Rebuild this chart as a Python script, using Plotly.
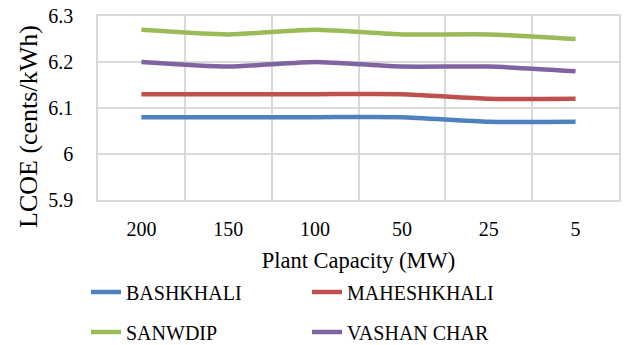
import plotly.graph_objects as go

categories = ["200", "150", "100", "50", "25", "5"]
bashkhali = [6.08, 6.08, 6.08, 6.08, 6.07, 6.07]
maheshkhali = [6.13, 6.13, 6.13, 6.13, 6.12, 6.12]
sanwdip = [6.27, 6.26, 6.27, 6.26, 6.26, 6.25]
vashan_char = [6.20, 6.19, 6.20, 6.19, 6.19, 6.18]
y_ticks = [5.9, 6.0, 6.1, 6.2, 6.3]
y_tick_labels = ["5.9", "6", "6.1", "6.2", "6.3"]
x_title = "Plant Capacity (MW)"
y_title = "LCOE (cents/kWh)"

series = [
    ("BASHKHALI", bashkhali, "#4F81BD", "legend"),
    ("MAHESHKHALI", maheshkhali, "#C0504D", "legend"),
    ("SANWDIP", sanwdip, "#9BBB59", "legend2"),
    ("VASHAN CHAR", vashan_char, "#8064A2", "legend2"),
]

FONT = "Liberation Serif"
fig = go.Figure()
for name, vals, color, lg in series:
    fig.add_trace(go.Scatter(
        x=categories, y=vals, name=name, mode="lines",
        line=dict(color=color, width=4.5, shape="spline", smoothing=0.6),
        legend=lg,
    ))

grid = "#D9D9D9"
legend_common = dict(
    orientation="h", entrywidth=176, entrywidthmode="pixels",
    font=dict(family=FONT, size=20, color="black"),
    xanchor="left", yanchor="middle", bgcolor="rgba(0,0,0,0)",
    xref="container", yref="container",
)
fig.update_layout(
    width=624, height=345,
    margin=dict(l=98, r=5, t=16, b=145, autoexpand=False),
    paper_bgcolor="white", plot_bgcolor="white",
    font=dict(family=FONT, size=20, color="black"),
    showlegend=True,
    legend=dict(x=(98 - 12) / 624, y=(345 - 292) / 345, **legend_common),
    legend2=dict(x=(98 - 12) / 624, y=(345 - 332) / 345, **legend_common),
    xaxis=dict(
        type="category", tickson="boundaries", showgrid=True,
        range=[-0.5, 5.5], automargin=False,
        gridcolor=grid, gridwidth=1.5, showline=True, linecolor=grid,
        linewidth=1.5, mirror=True, ticks="", ticklabelstandoff=10,
        tickfont=dict(family=FONT, size=20, color="black"),
        title=dict(text=x_title, font=dict(family=FONT, size=22.5, color="black"), standoff=27),
    ),
    yaxis=dict(
        range=[5.9, 6.3], tickvals=y_ticks, ticktext=y_tick_labels,
        automargin=False,
        showgrid=True, gridcolor=grid, gridwidth=1.5,
        showline=True, linecolor=grid, linewidth=1.5, mirror=True,
        ticks="outside", ticklen=19, tickcolor="rgba(0,0,0,0)",
        zeroline=False,
        tickfont=dict(family=FONT, size=20, color="black"),
    ),
    annotations=[dict(
        text=y_title, textangle=-90, showarrow=False,
        xref="paper", yref="paper", x=(28 - 98) / 521, y=(200 - 127) / 184,
        xanchor="center", yanchor="middle",
        font=dict(family=FONT, size=26, color="black"),
    )],
)
fig.write_html("out.html")
